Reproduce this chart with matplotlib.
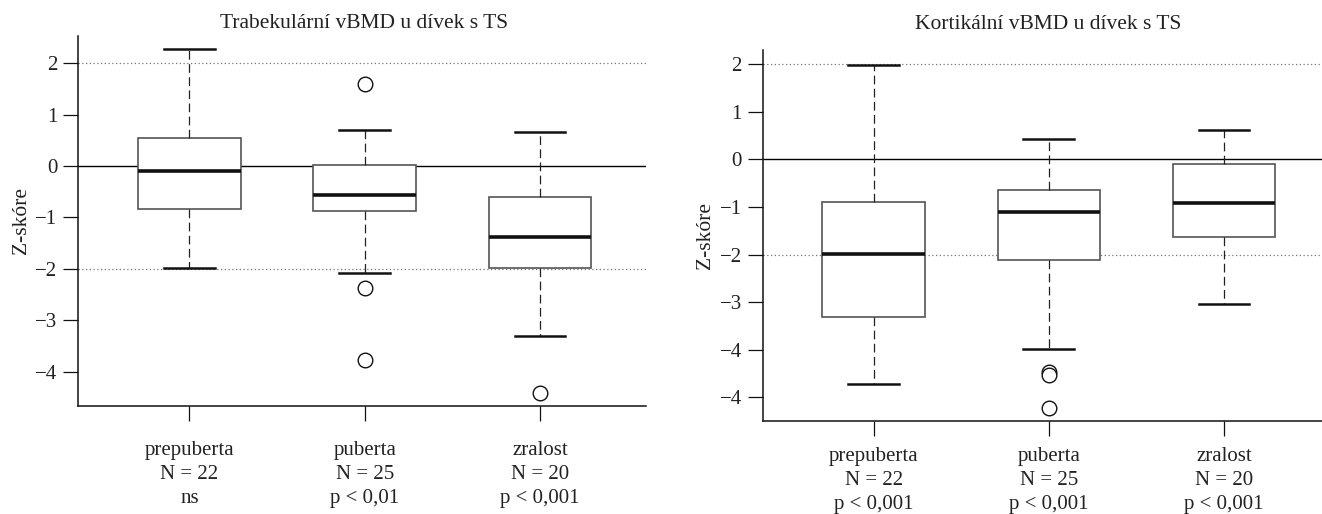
import matplotlib
matplotlib.use("Agg")
import matplotlib.pyplot as plt

plt.rcParams["font.family"] = ["Liberation Serif", "DejaVu Serif"]
plt.rcParams["font.size"] = 15

GROUPS = ["prepuberta", "puberta", "zralost"]
N_LABELS = ["N = 22", "N = 25", "N = 20"]

# trabecular vBMD (Z-score)
TRAB_P = ["ns", "p < 0,01", "p < 0,001"]
TRAB_WHISLO = [-1.99, -2.08, -3.30]
TRAB_Q1 = [-0.83, -0.87, -1.99]
TRAB_MED = [-0.10, -0.565, -1.38]
TRAB_Q3 = [0.545, 0.01, -0.61]
TRAB_WHISHI = [2.27, 0.71, 0.656]
TRAB_FLIERS = [[], [1.60, -2.38, -3.77], [-4.42]]

# cortical vBMD (Z-score)
CORT_P = ["p < 0,001", "p < 0,001", "p < 0,001"]
CORT_WHISLO = [-4.72, -3.99, -3.04]
CORT_Q1 = [-3.31, -2.12, -1.64]
CORT_MED = [-1.98, -1.11, -0.925]
CORT_Q3 = [-0.90, -0.64, -0.09]
CORT_WHISHI = [1.99, 0.435, 0.62]
CORT_FLIERS = [[], [-4.47, -4.54, -5.22], []]

TRAB_YTICKS = [2, 1, 0, -1, -2, -3, -4]
TRAB_YTICKLABELS = ["2", "1", "0", "\u22121", "\u22122", "\u22123", "\u22124"]
CORT_YTICKS = [2, 1, 0, -1, -2, -3, -4, -5]
CORT_YTICKLABELS = ["2", "1", "0", "\u22121", "\u22122", "\u22123", "\u22124", "\u22124"]

TEXT_COLOR = "#222222"


def make_stats(whislo, q1, med, q3, whishi, fliers):
    stats = []
    for lo, a, m, b, hi, fl in zip(whislo, q1, med, q3, whishi, fliers):
        stats.append({"whislo": lo, "q1": a, "med": m, "q3": b, "whishi": hi, "fliers": fl})
    return stats


def draw_panel(ax, stats, p_labels, yticks, yticklabels, ylim, xlim, xpad):
    ax.axhline(0, color="black", linewidth=1.0, zorder=1)
    for y in (2, -2):
        ax.axhline(y, color="#777777", linewidth=0.9, linestyle=(0, (1, 2)), zorder=1)

    ax.bxp(
        stats,
        positions=[1, 2, 3],
        widths=0.585,
        capwidths=0.29,
        patch_artist=True,
        boxprops=dict(facecolor="white", edgecolor="#555555", linewidth=1.2),
        medianprops=dict(color="#111111", linewidth=2.6, solid_capstyle="butt"),
        whiskerprops=dict(color="#222222", linewidth=0.9, linestyle=(0, (7, 3.5))),
        capprops=dict(color="#111111", linewidth=1.8),
        flierprops=dict(marker="o", markerfacecolor="white", markeredgecolor="#111111",
                        markersize=10.5, markeredgewidth=1.0, linestyle="none"),
        zorder=2,
    )

    ax.set_xlim(*xlim)
    ax.set_ylim(*ylim)
    ax.set_yticks(yticks)
    ax.set_yticklabels(yticklabels)
    ax.set_xticks([1, 2, 3])
    ax.set_xticklabels([f"{g}\n{n}\n{p}" for g, n, p in zip(GROUPS, N_LABELS, p_labels)],
                       linespacing=1.35)
    ax.set_ylabel("Z-skóre", color=TEXT_COLOR, labelpad=3, fontsize=15.5)

    for side in ("top", "right"):
        ax.spines[side].set_visible(False)
    for side in ("left", "bottom"):
        ax.spines[side].set_linewidth(1.1)
        ax.spines[side].set_color("#111111")
    ax.tick_params(axis="both", direction="out", length=11, width=0.9,
                   colors="#111111", labelcolor=TEXT_COLOR, labelsize=15)
    ax.tick_params(axis="x", pad=xpad)
    ax.tick_params(axis="y", pad=4)
    ax.set_facecolor("white")


fig = plt.figure(figsize=(13.22, 5.14), dpi=100)
W, H = 1322.0, 514.0

ax1 = fig.add_axes([78.3 / W, 1 - 406 / H, (646 - 78.3) / W, (406 - 36) / H])
ax2 = fig.add_axes([762.6 / W, 1 - 421 / H, (1329 - 762.6) / W, (421 - 50) / H])

draw_panel(ax1, make_stats(TRAB_WHISLO, TRAB_Q1, TRAB_MED, TRAB_Q3, TRAB_WHISHI, TRAB_FLIERS),
           TRAB_P, TRAB_YTICKS, TRAB_YTICKLABELS, (-4.67, 2.53), (0.366, 3.605), 14.5)
draw_panel(ax2, make_stats(CORT_WHISLO, CORT_Q1, CORT_MED, CORT_Q3, CORT_WHISHI, CORT_FLIERS),
           CORT_P, CORT_YTICKS, CORT_YTICKLABELS, (-5.5, 2.3), (0.366, 3.6), 8)

fig.text(364 / W, 1 - 23 / H, "Trabekulární vBMD u dívek s TS", ha="center", va="center",
         fontsize=15.5, color=TEXT_COLOR)
fig.text(1048 / W, 1 - 24 / H, "Kortikální vBMD u dívek s TS", ha="center", va="center",
         fontsize=15.5, color=TEXT_COLOR)

fig.savefig("out.png", dpi=100, facecolor="white")
